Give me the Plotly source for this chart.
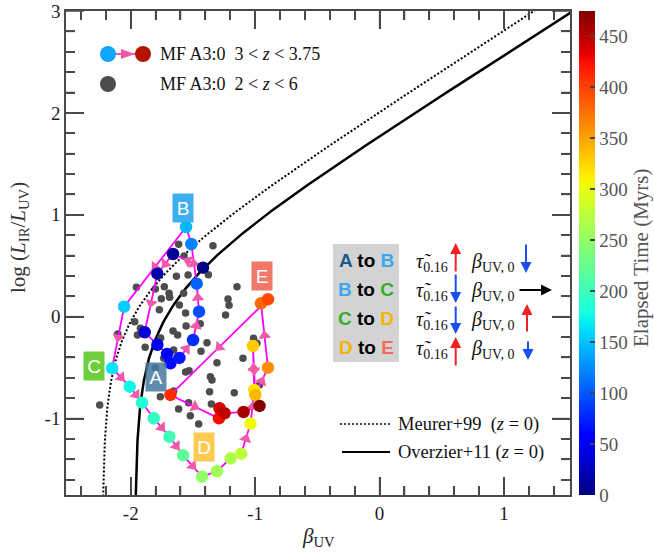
import numpy as np
import plotly.graph_objects as go

# ---------------- data ----------------
# MF A3:0 trajectory (3 < z < 3.75), in time order
traj_beta = [-1.419, -1.660, -1.786, -1.888, -1.786, -1.708, -1.681, -1.609, -1.499, -1.451,
             -1.470, -1.513, -1.555, -2.053, -2.149, -2.008, -1.909, -1.815, -1.689, -1.579,
             -1.427, -1.307, -1.197, -1.112, -1.037, -1.007, -1.018, -0.999, -0.897, -0.953,
             -0.897, -1.681, -1.291, -1.286, -1.246, -1.093, -0.965]
traj_irx = [0.481, 0.615, 0.422, -0.153, -0.275, -0.366, -0.457, -0.405, -0.229, 0.049,
            0.324, 0.713, 0.880, 0.098, -0.506, -0.687, -0.844, -0.997, -1.178, -1.360,
            -1.570, -1.517, -1.390, -1.344, -1.050, -0.719, -0.288, -0.768, -0.500, 0.131,
            0.171, -0.768, -0.997, -0.899, -0.948, -0.935, -0.876]
traj_time = [0, 10, 20, 35, 45, 55, 62, 70, 80, 95,
             105, 120, 145, 155, 165, 175, 185, 195, 205, 220,
             250, 258, 266, 275, 305, 318, 330, 340, 362, 380,
             395, 410, 425, 440, 448, 460, 472]

# MF A3:0 snapshots (2 < z < 6)
all_beta = [-1.615, -1.339, -1.571, -1.954, -1.802, -1.730, -1.633, -1.539, -1.376, -1.146,
            -1.754, -1.692, -1.687, -1.575, -1.770, -1.609, -1.218, -1.210, -1.238, -1.559,
            -1.968, -1.922, -1.946, -1.555, -1.441, -1.884, -1.759, -1.660, -1.623, -1.387,
            -1.435, -1.307, -1.098, -1.013, -0.986, -1.559, -1.531, -1.360, -2.104, -1.655,
            -1.735, -1.347, -1.168, -1.366, -1.655, -1.762, -1.535, -1.352, -1.615, -1.521,
            -1.454, -0.965, -1.802, -2.249]
all_irx = [0.711, 0.697, 0.596, 0.289, 0.272, 0.294, 0.396, 0.409, 0.412, 0.294,
           0.177, 0.230, 0.190, 0.230, 0.069, 0.115, 0.174, 0.112, 0.017, 0.036,
           -0.049, -0.114, -0.180, -0.091, -0.069, -0.300, -0.209, -0.140, -0.180, -0.255,
           -0.340, -0.451, -0.408, -0.212, -0.261, -0.543, -0.530, -0.589, -0.170, -0.327,
           -0.408, -0.621, -0.746, -0.736, -0.729, -0.785, -0.844, -0.857, -0.906, -0.972,
           -1.053, -0.670, -0.500, -0.867]

# IRX-beta relations (z = 0): A_UV = a0 + a1 * beta
MEURER_A0, MEURER_A1 = 4.43, 1.99
OVERZIER_A0, OVERZIER_A1 = 3.85, 1.96
IR_BC = 1.75

cbar_ticks = [0, 50, 100, 150, 200, 250, 300, 350, 400, 450]
x_ticks = [-2, -1, 0, 1]
y_ticks = [-1, 0, 1, 2, 3]
CMAX = 475

# ---------------- layout geometry ----------------
W, H = 654, 552
ML, MR, MT, MB = 66, 84, 11, 57
XR = [-2.52, 1.53]
YR = [-1.75, 3.0]
PW, PH = W - ML - MR, H - MT - MB
TICK_C = "#4a4a4a"
TICK_W = 1.5


def px(x):
    return (x - ML) / PW


def py(y):
    return (H - MB - y) / PH


# matplotlib-like jet colorscale
_r = [(0, 0), (0.35, 0), (0.66, 1), (0.89, 1), (1, 0.5)]
_g = [(0, 0), (0.125, 0), (0.375, 1), (0.64, 1), (0.91, 0), (1, 0)]
_b = [(0, 0.5), (0.11, 1), (0.34, 1), (0.65, 0), (1, 0)]
stops = np.linspace(0, 1, 81)


def _ch(seg, s):
    return np.interp(s, [p[0] for p in seg], [p[1] for p in seg])


jet = [[float(s), "rgb(%d,%d,%d)" % (round(255 * _ch(_r, s)), round(255 * _ch(_g, s)), round(255 * _ch(_b, s)))]
       for s in stops]


def irx_curve(a0, a1):
    b0 = -a0 / a1
    off = np.concatenate([np.geomspace(1e-6, 0.3, 300), np.linspace(0.31, 4.5, 300)])
    b = b0 + off
    A = a0 + a1 * b
    return b, np.log10(IR_BC * (10 ** (0.4 * A) - 1))


fig = go.Figure()

# model curves
mb, mi = irx_curve(MEURER_A0, MEURER_A1)
ob, oi = irx_curve(OVERZIER_A0, OVERZIER_A1)
fig.add_trace(go.Scatter(x=mb, y=mi, mode="lines", line=dict(color="black", width=2, dash="2px,2px"),
                         hoverinfo="skip"))
fig.add_trace(go.Scatter(x=ob, y=oi, mode="lines", line=dict(color="black", width=2.5),
                         hoverinfo="skip"))

# grey snapshots
fig.add_trace(go.Scatter(x=all_beta, y=all_irx, mode="markers",
                         marker=dict(color="#4d4d4d", size=7.5, line=dict(width=0))))

# trajectory line
fig.add_trace(go.Scatter(x=traj_beta, y=traj_irx, mode="lines",
                         line=dict(color="#ff00ff", width=1.8)))

# direction arrows at mid-segments
sx = PW / (XR[1] - XR[0])
sy = PH / (YR[1] - YR[0])
tb = np.array(traj_beta)
ti = np.array(traj_irx)
dx = np.diff(tb) * sx
dy = np.diff(ti) * sy
seglen = np.hypot(dx, dy)
mask = seglen > 20
ang = np.degrees(np.arctan2(dx, dy))
fig.add_trace(go.Scatter(x=((tb[:-1] + tb[1:]) / 2)[mask], y=((ti[:-1] + ti[1:]) / 2)[mask],
                         mode="markers",
                         marker=dict(symbol="triangle-up", size=11, color="#ee5aa6",
                                     angle=ang[mask], line=dict(width=0))))

# trajectory points coloured by time
fig.add_trace(go.Scatter(
    x=traj_beta, y=traj_irx, mode="markers",
    marker=dict(color=traj_time, colorscale=jet, cmin=0, cmax=CMAX, size=12.5, line=dict(width=0),
                colorbar=dict(x=1 + 9 / PW, xanchor="left", xpad=0, ypad=0, y=0.5, yanchor="middle",
                              len=1, lenmode="fraction", thickness=16, thicknessmode="pixels",
                              outlinewidth=0, ticks="inside", ticklen=5, tickcolor="#444",
                              tickwidth=TICK_W,
                              tickvals=cbar_ticks, tickfont=dict(size=19, color="#555",
                                                                 family="Liberation Serif")))))

axis_common = dict(showgrid=False, zeroline=False, showline=True, linecolor=TICK_C, linewidth=1.5,
                   mirror="ticks", ticks="inside", ticklen=18, tickwidth=TICK_W, tickcolor=TICK_C,
                   layer="above traces",
                   tickfont=dict(size=19, color="#222", family="Liberation Serif"))
minor_common = dict(dtick=0.2, tick0=0, ticks="inside", ticklen=9, tickwidth=TICK_W,
                    tickcolor=TICK_C, showgrid=False)
fig.update_xaxes(range=XR, tickvals=x_ticks, ticktext=[str(v) for v in x_ticks],
                 minor=minor_common, **axis_common)
fig.update_yaxes(range=YR, tickvals=y_ticks, ticktext=[str(v) for v in y_ticks],
                 minor=minor_common, **axis_common)

shapes = []
annos = []

# tick marks also as shapes (major 18 px, minor 9 px, inward on all four sides)
x_minor = [v for v in np.round(np.arange(-2.4, 1.5, 0.2), 1) if v not in x_ticks]
y_minor = [v for v in np.round(np.arange(-1.6, 3.0, 0.2), 1) if v not in y_ticks]
for vals, ln in [(x_ticks, 18), (x_minor, 9)]:
    for v in vals:
        shapes.append(dict(type="line", xref="x", yref="paper", x0=v, x1=v, ysizemode="pixel",
                           yanchor=0, y0=0, y1=ln, line=dict(color=TICK_C, width=TICK_W)))
        shapes.append(dict(type="line", xref="x", yref="paper", x0=v, x1=v, ysizemode="pixel",
                           yanchor=1, y0=-ln, y1=0, line=dict(color=TICK_C, width=TICK_W)))
for vals, ln in [(y_ticks, 18), (y_minor, 9)]:
    for v in vals:
        shapes.append(dict(type="line", xref="paper", yref="y", y0=v, y1=v, xsizemode="pixel",
                           xanchor=0, x0=0, x1=ln, line=dict(color=TICK_C, width=TICK_W)))
        shapes.append(dict(type="line", xref="paper", yref="y", y0=v, y1=v, xsizemode="pixel",
                           xanchor=1, x0=-ln, x1=0, line=dict(color=TICK_C, width=TICK_W)))

# axis titles
annos.append(dict(xref="paper", yref="paper", x=px(318), y=py(537), text="<i>β</i><sub>UV</sub>",
                  showarrow=False, font=dict(size=21, color="#222"), xanchor="center", yanchor="middle"))
annos.append(dict(xref="paper", yref="paper", x=px(19), y=py(238),
                  text="log (<i>L</i><sub>IR</sub>/<i>L</i><sub>UV</sub>)", textangle=-90,
                  showarrow=False, font=dict(size=21, color="#333"), xanchor="center", yanchor="middle"))
annos.append(dict(xref="paper", yref="paper", x=px(641), y=py(258), text="Elapsed Time (Myrs)",
                  textangle=-90, showarrow=False, font=dict(size=21, color="#555"),
                  xanchor="center", yanchor="middle"))

# top-left legend
shapes.append(dict(type="line", xref="paper", yref="paper", x0=px(112), x1=px(138), y0=py(54), y1=py(54),
                   line=dict(color="#ee5aa6", width=2)))
shapes.append(dict(type="path", xref="paper", yref="paper", xsizemode="pixel", ysizemode="pixel",
                   xanchor=px(128), yanchor=py(54), path="M -7,-5 L 7,0 L -7,5 Z",
                   fillcolor="#ee5aa6", line=dict(width=0)))
for (cx, cy, col) in [(108, 54, "#11a6ff"), (143, 54, "#b31300"), (108, 84, "#4d4d4d")]:
    shapes.append(dict(type="circle", xref="paper", yref="paper", xsizemode="pixel", ysizemode="pixel",
                       xanchor=px(cx), yanchor=py(cy), x0=-8, x1=8, y0=-8, y1=8,
                       fillcolor=col, line=dict(width=0)))
annos.append(dict(xref="paper", yref="paper", x=px(158), y=py(54), xanchor="left", yanchor="middle",
                  text="MF A3:0&nbsp;&nbsp;3 &lt; <i>z</i> &lt; 3.75", showarrow=False,
                  font=dict(size=18, color="#111")))
annos.append(dict(xref="paper", yref="paper", x=px(158), y=py(84), xanchor="left", yanchor="middle",
                  text="MF A3:0&nbsp;&nbsp;2 &lt; <i>z</i> &lt; 6", showarrow=False,
                  font=dict(size=18, color="#111")))

# bottom-right legend
shapes.append(dict(type="line", xref="paper", yref="paper", x0=px(340), x1=px(390), y0=py(424), y1=py(424),
                   line=dict(color="black", width=1.5, dash="2px,2px")))
shapes.append(dict(type="line", xref="paper", yref="paper", x0=px(342), x1=px(390), y0=py(452), y1=py(452),
                   line=dict(color="black", width=2)))
annos.append(dict(xref="paper", yref="paper", x=px(396), y=py(424), xanchor="left", yanchor="middle",
                  text="Meurer+99&nbsp;&nbsp;(<i>z</i> = 0)", showarrow=False, font=dict(size=18.5, color="#111")))
annos.append(dict(xref="paper", yref="paper", x=px(396), y=py(452), xanchor="left", yanchor="middle",
                  text="Overzier+11 (<i>z</i> = 0)", showarrow=False, font=dict(size=18.5, color="#111")))

# stage labels
stage = [("A", 156, 377, "rgba(70,120,160,0.85)"),
         ("B", 183, 208, "rgba(51,170,238,0.95)"),
         ("C", 94, 366, "rgba(102,204,51,0.95)"),
         ("D", 204, 447, "rgba(252,200,74,0.95)"),
         ("E", 262, 276, "rgba(240,112,96,0.95)")]
for (t, cx, cy, col) in stage:
    annos.append(dict(xref="paper", yref="paper", x=px(cx), y=py(cy), text=t, showarrow=False,
                      bgcolor=col, width=18, height=26, borderpad=1, xanchor="center", yanchor="middle",
                      font=dict(family="Liberation Sans", size=19, color="white")))

# phase summary box
shapes.append(dict(type="rect", xref="paper", yref="paper", x0=px(333), x1=px(399), y0=py(362), y1=py(244),
                   fillcolor="#d3d3d3", line=dict(width=0), layer="below"))
cA, cB, cC, cD, cE = "#1d5a8a", "#3aa8f0", "#2fb01f", "#f5b400", "#f26b5b"
rows = [(cA, "A", cB, "B"), (cB, "B", cC, "C"), (cC, "C", cD, "D"), (cD, "D", cE, "E")]
row_y = [260, 289, 318, 347]
for (c1, t1, c2, t2), yy in zip(rows, row_y):
    annos.append(dict(xref="paper", yref="paper", x=px(366), y=py(yy), xanchor="center", yanchor="middle",
                      text="<b><span style='color:%s'>%s</span> to <span style='color:%s'>%s</span></b>"
                           % (c1, t1, c2, t2),
                      showarrow=False, font=dict(family="Liberation Sans", size=19, color="black")))
    annos.append(dict(xref="paper", yref="paper", x=px(414), y=py(yy + 2), xanchor="left", yanchor="middle",
                      text="<i>\u03c4\u0303</i><sub>0.16</sub>", showarrow=False,
                      font=dict(size=20, color="#111")))
    annos.append(dict(xref="paper", yref="paper", x=px(469), y=py(yy + 2), xanchor="left", yanchor="middle",
                      text="<i>β</i><sub>UV, 0</sub>", showarrow=False, font=dict(size=20, color="#111")))

RED, BLUE = "#ee2222", "#1a4ef0"
arrows = [((455.7, 243), (455.7, 273), RED), ((526, 273), (526, 243), BLUE),
          ((455.7, 303), (455.7, 273), BLUE), ((552, 290), (518, 290), "black"),
          ((455.7, 334), (455.7, 305), BLUE), ((527, 304), (527, 333), RED),
          ((455.7, 337), (455.7, 367), RED), ((528, 360), (528, 340), BLUE)]
for (tip, tail, col) in arrows:
    annos.append(dict(xref="paper", yref="paper", x=px(tip[0]), y=py(tip[1]), text="",
                      showarrow=True, ax=tail[0] - tip[0], ay=tail[1] - tip[1],
                      arrowhead=2, arrowsize=1.1, arrowwidth=2, arrowcolor=col))

fig.update_layout(width=W, height=H, margin=dict(l=ML, r=MR, t=MT, b=MB, autoexpand=False),
                  plot_bgcolor="white", paper_bgcolor="white", showlegend=False,
                  font=dict(family="Liberation Serif", size=19, color="#222"),
                  shapes=shapes, annotations=annos)

fig.write_html("out.html")
